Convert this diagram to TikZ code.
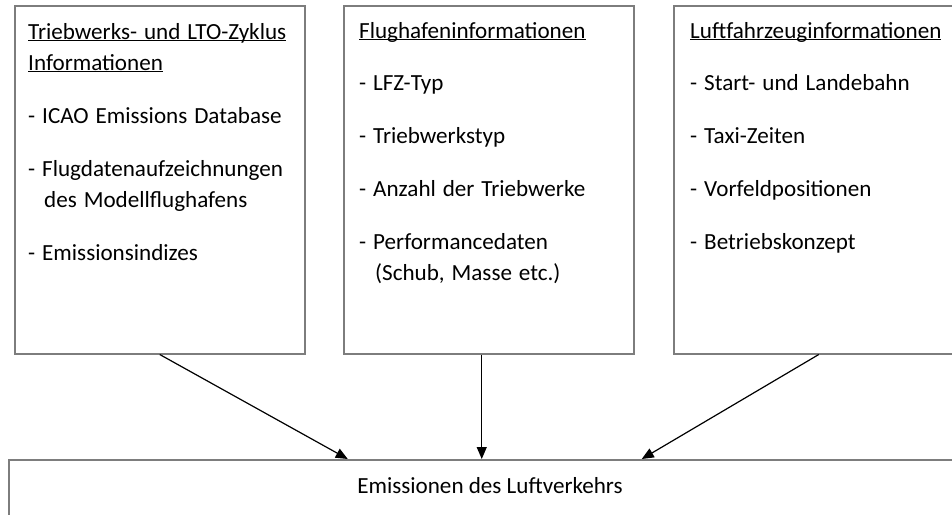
\documentclass[tikz,border=0pt]{standalone}
\usepackage{fontspec}
\setmainfont{Carlito}
\usetikzlibrary{arrows.meta,calc}
\definecolor{boxgray}{RGB}{125,125,125}
\newcommand{\ultitle}[1]{\leavevmode\setbox0\hbox{#1}\rlap{\rule[-2pt]{\wd0}{1.3pt}}\box0}
\newcommand{\cont}{\hspace*{16pt}}
\newcommand{\infofont}{\fontsize{23.1}{31}\selectfont\spaceskip=0.3em\relax}
\tikzset{
  infobox/.style={draw=boxgray,line width=1.5pt,minimum width=290pt,minimum height=348pt,anchor=north west,inner sep=0pt},
  infotext/.style={anchor=base west,inner sep=0pt,text width=280pt,align=flush left,font=\infofont},
  flow/.style={line width=1.2pt,-{Triangle[length=12pt,width=10pt]}}
}
\begin{document}
\begin{tikzpicture}[x=1pt,y=-1pt]
\useasboundingbox (0,0) rectangle (952,514);
\clip (0,0) rectangle (952,514);
\node[infobox] (tbox) at (14,5) {};
\node[infobox] (fbox) at (343,5) {};
\node[infobox] (lbox) at (673,5) {};
\node[infobox,minimum width=946pt,minimum height=80pt] (emis) at (8,459) {};
\node[infotext] (ttext) at (28,39) {\ultitle{Triebwerks- und LTO-Zyklus}\\
\ultitle{Informationen}\\[22.5pt]
- ICAO Emissions Database\\[21.5pt]
- Flugdatenaufzeichnungen\\
\cont des Modellflughafens\\[22pt]
- Emissionsindizes};
\node[infotext] (ftext) at (359,38) {\ultitle{Flughafeninformationen}\\[21.5pt]
- LFZ-Typ\\[21.5pt]
- Triebwerkstyp\\[22pt]
- Anzahl der Triebwerke\\[22.5pt]
- Performancedaten\\
\cont(Schub, Masse etc.)};
\node[infotext] (ltext) at (690,38) {\ultitle{Luftfahrzeuginformationen}\\[21.5pt]
- Start- und Landebahn\\[21.5pt]
- Taxi-Zeiten\\[22pt]
- Vorfeldpositionen\\[22.5pt]
- Betriebskonzept};
\node[anchor=base,inner sep=0pt,font=\fontsize{23.1}{31}\selectfont] (emistext) at (490,493) {Emissionen des Luftverkehrs};
% Pfeile zur Emissionsberechnung
\draw[flow] (tbox.south) -- ($(emis.north)+(-134,0)$);
\draw[flow] (fbox.south -| emis.north) -- (emis.north);
\draw[flow] (lbox.south) -- ($(emis.north)+(160,0)$);
\end{tikzpicture}
\end{document}
